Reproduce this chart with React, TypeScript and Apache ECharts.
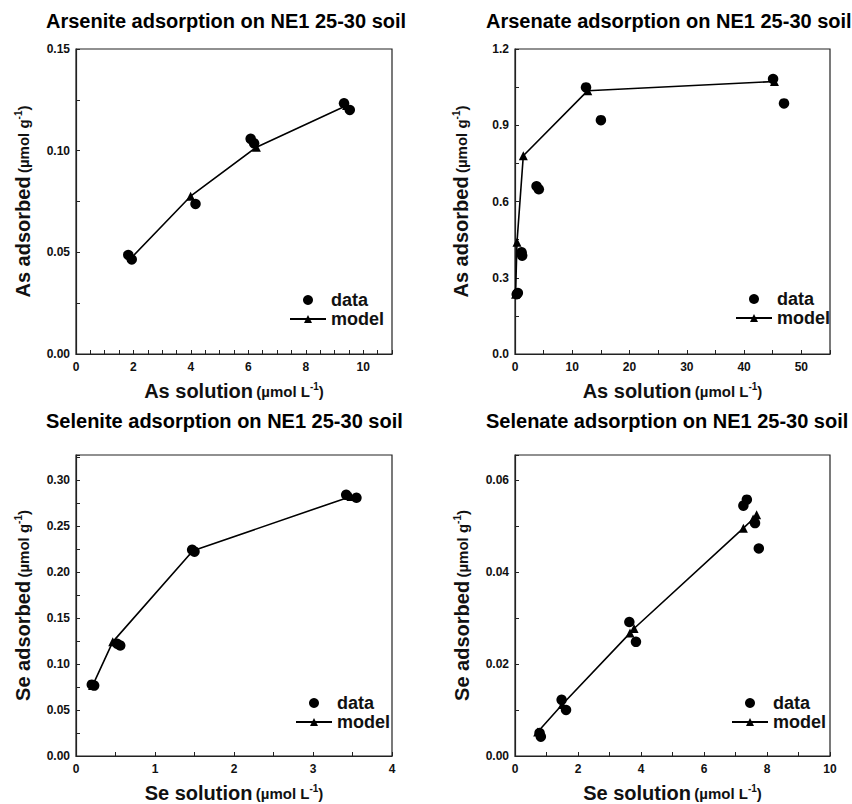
import React, { useEffect, useRef } from "react";
import * as echarts from "echarts";

const FONT = '"Liberation Sans", Arial, Helvetica, sans-serif';

// ---------- Panel titles ----------
const panelTitles = [
  "Arsenite adsorption on NE1 25-30 soil",
  "Arsenate adsorption on NE1 25-30 soil",
  "Selenite adsorption on NE1 25-30 soil",
  "Selenate adsorption on NE1 25-30 soil",
];
const xNames = ["As solution", "As solution", "Se solution", "Se solution"];
const yNames = ["As adsorbed", "As adsorbed", "Se adsorbed", "Se adsorbed"];
const xUnit = "(µmol L";
const yUnit = "(µmol g";
const unitExp = "-1";
const legendNames = ["data", "model"];

// ---------- Arsenite ----------
const arseniteDataX = [1.82, 1.94, 4.16, 6.08, 6.2, 9.33, 9.53];
const arseniteDataY = [0.0487, 0.0465, 0.0738, 0.1058, 0.1036, 0.1233, 0.12];
const arseniteModelX = [1.94, 3.99, 6.28, 9.42];
const arseniteModelY = [0.0475, 0.0776, 0.1017, 0.1222];

// ---------- Arsenate ----------
const arsenateDataX = [0.3, 0.5, 1.15, 1.25, 3.76, 4.16, 12.4, 15.0, 45.06, 46.97];
const arsenateDataY = [0.235, 0.24, 0.4, 0.387, 0.66, 0.648, 1.049, 0.92, 1.082, 0.986];
const arsenateModelX = [0.1, 0.35, 1.45, 12.7, 45.3];
const arsenateModelY = [0.235, 0.44, 0.78, 1.036, 1.072];

// ---------- Selenite ----------
const seleniteDataX = [0.2, 0.23, 0.52, 0.56, 1.47, 1.5, 3.42, 3.55];
const seleniteDataY = [0.0775, 0.0765, 0.122, 0.12, 0.224, 0.222, 0.2837, 0.2805];
const seleniteModelX = [0.21, 0.465, 1.48, 3.48];
const seleniteModelY = [0.0765, 0.124, 0.223, 0.282];

// ---------- Selenate ----------
const selenateDataX = [0.78, 0.82, 1.48, 1.62, 3.63, 3.84, 7.25, 7.36, 7.62, 7.74];
const selenateDataY = [0.005, 0.0042, 0.0122, 0.01, 0.0291, 0.0248, 0.0544, 0.0557, 0.0506, 0.0451];
const selenateModelX = [0.72, 1.5, 3.65, 3.78, 7.25, 7.56, 7.67];
const selenateModelY = [0.0052, 0.0112, 0.0267, 0.0277, 0.0495, 0.0515, 0.0524];

// ---------- Tick labels ----------
const arseniteXTicks = [0, 2, 4, 6, 8, 10];
const arseniteYTicks = [0, 0.05, 0.1, 0.15];
const arsenateXTicks = [0, 10, 20, 30, 40, 50];
const arsenateYTicks = [0, 0.3, 0.6, 0.9, 1.2];
const seleniteXTicks = [0, 1, 2, 3, 4];
const seleniteYTicks = [0, 0.05, 0.1, 0.15, 0.2, 0.25, 0.3];
const selenateXTicks = [0, 2, 4, 6, 8, 10];
const selenateYTicks = [0, 0.02, 0.04, 0.06];

const panels = [
  {
    dx: arseniteDataX, dy: arseniteDataY, mx: arseniteModelX, my: arseniteModelY,
    xTicks: arseniteXTicks, yTicks: arseniteYTicks, xDec: 0, yDec: 2,
    xMax: 11, xInt: 0.5, yMax: 0.15, yInt: 0.025,
    grid: { left: 76, top: 49, width: 316, height: 305 },
    title: { left: 46, top: 11 },
    legend: { left: 289, top: 291 },
    yGap: 43,
  },
  {
    dx: arsenateDataX, dy: arsenateDataY, mx: arsenateModelX, my: arsenateModelY,
    xTicks: arsenateXTicks, yTicks: arsenateYTicks, xDec: 0, yDec: 1,
    xMax: 55, xInt: 5, yMax: 1.2, yInt: 0.15,
    grid: { left: 515, top: 49, width: 315, height: 305 },
    title: { left: 486, top: 11 },
    legend: { left: 735, top: 290 },
    yGap: 44,
  },
  {
    dx: seleniteDataX, dy: seleniteDataY, mx: seleniteModelX, my: seleniteModelY,
    xTicks: seleniteXTicks, yTicks: seleniteYTicks, xDec: 0, yDec: 2,
    xMax: 4, xInt: 0.5, yMax: 0.327, yInt: 0.025,
    grid: { left: 76, top: 455, width: 316, height: 303 },
    title: { left: 46, top: 411 },
    legend: { left: 295, top: 694 },
    yGap: 43,
  },
  {
    dx: selenateDataX, dy: selenateDataY, mx: selenateModelX, my: selenateModelY,
    xTicks: selenateXTicks, yTicks: selenateYTicks, xDec: 0, yDec: 2,
    xMax: 10, xInt: 1, yMax: 0.0654, yInt: 0.01,
    grid: { left: 515, top: 455, width: 315, height: 303 },
    title: { left: 486, top: 411 },
    legend: { left: 731, top: 694 },
    yGap: 43,
  },
];

const zip = (xs: number[], ys: number[]) => xs.map((x, i) => [x, ys[i]]);

const makeFormatter = (ticks: number[], dec: number, step: number) => (v: number) => {
  const hit = ticks.find((t) => Math.abs(t - v) < step * 1e-3);
  return hit === undefined ? "" : hit.toFixed(dec);
};

const INK = "#111";
const FRAME = "#222";

const nameRich = {
  m: { fontSize: 20, fontWeight: "bold", fontFamily: FONT, color: INK },
  u: { fontSize: 15, fontWeight: "bold", fontFamily: FONT, color: INK },
  s: { fontSize: 10, fontWeight: "bold", fontFamily: FONT, color: INK, verticalAlign: "top" },
};

function buildOption() {
  const grid: any[] = [];
  const xAxis: any[] = [];
  const yAxis: any[] = [];
  const series: any[] = [];
  const title: any[] = [];
  const legend: any[] = [];

  panels.forEach((p, i) => {
    grid.push({ ...p.grid, show: true, borderColor: FRAME, borderWidth: 1.2, backgroundColor: "transparent" });
    xAxis.push({
      type: "value",
      gridIndex: i,
      min: 0,
      max: p.xMax,
      interval: p.xInt,
      splitLine: { show: false },
      axisLine: { show: true, onZero: false, lineStyle: { color: FRAME, width: 1.2 } },
      axisTick: { show: true, inside: true, length: 4, lineStyle: { color: FRAME } },
      axisLabel: {
        margin: 7,
        fontSize: 12,
        fontWeight: "bold",
        fontFamily: FONT,
        color: INK,
        showMaxLabel: true,
        formatter: makeFormatter(p.xTicks, p.xDec, p.xInt),
      },
      name: `{m|${xNames[i]}} {u|${xUnit}}{s|${unitExp}}{u|)}`,
      nameLocation: "middle",
      nameGap: 27,
      nameTextStyle: { fontFamily: FONT, color: INK, rich: nameRich },
    });
    yAxis.push({
      type: "value",
      gridIndex: i,
      min: 0,
      max: p.yMax,
      interval: p.yInt,
      splitLine: { show: false },
      axisLine: { show: true, onZero: false, lineStyle: { color: FRAME, width: 1.2 } },
      axisTick: { show: true, inside: true, length: 4, lineStyle: { color: FRAME } },
      axisLabel: {
        margin: 6,
        fontSize: 12,
        fontWeight: "bold",
        fontFamily: FONT,
        color: INK,
        formatter: makeFormatter(p.yTicks, p.yDec, p.yInt),
      },
      name: `{m|${yNames[i]}} {u|${yUnit}}{s|${unitExp}}{u|)}`,
      nameLocation: "middle",
      nameRotate: 90,
      nameGap: p.yGap,
      nameTextStyle: { fontFamily: FONT, color: INK, rich: nameRich },
    });
    series.push({
      type: "scatter",
      name: legendNames[0],
      xAxisIndex: i,
      yAxisIndex: i,
      data: zip(p.dx, p.dy),
      symbol: "circle",
      symbolSize: 10.5,
      itemStyle: { color: "#000", opacity: 1 },
      z: 3,
    });
    series.push({
      type: "line",
      name: legendNames[1],
      xAxisIndex: i,
      yAxisIndex: i,
      data: zip(p.mx, p.my),
      symbol: "triangle",
      symbolSize: 9,
      showSymbol: true,
      lineStyle: { color: "#000", width: 1.6 },
      itemStyle: { color: "#000", opacity: 1 },
      z: 2,
    });
    title.push({
      text: panelTitles[i],
      left: p.title.left,
      top: p.title.top,
      padding: 0,
      textStyle: { fontFamily: FONT, fontSize: 20, fontWeight: "bold", color: "#000" },
    });
    legend.push({
      data: legendNames,
      orient: "vertical",
      left: p.legend.left,
      top: p.legend.top,
      padding: 0,
      itemGap: 1,
      itemWidth: 36,
      itemHeight: 10,
      selectedMode: false,
      textStyle: { fontFamily: FONT, fontSize: 18, fontWeight: "bold", color: INK, lineHeight: 18 },
    });
  });

  return {
    animation: false,
    backgroundColor: "#fff",
    title,
    legend,
    grid,
    xAxis,
    yAxis,
    series,
  };
}

export default function App() {
  const ref = useRef<HTMLDivElement>(null);
  useEffect(() => {
    document.body.style.margin = "0";
    if (!ref.current) return;
    const chart = echarts.init(ref.current, undefined, { renderer: "svg" });
    chart.setOption(buildOption() as any);
    return () => chart.dispose();
  }, []);
  return <div ref={ref} style={{ width: 852, height: 804 }} />;
}
